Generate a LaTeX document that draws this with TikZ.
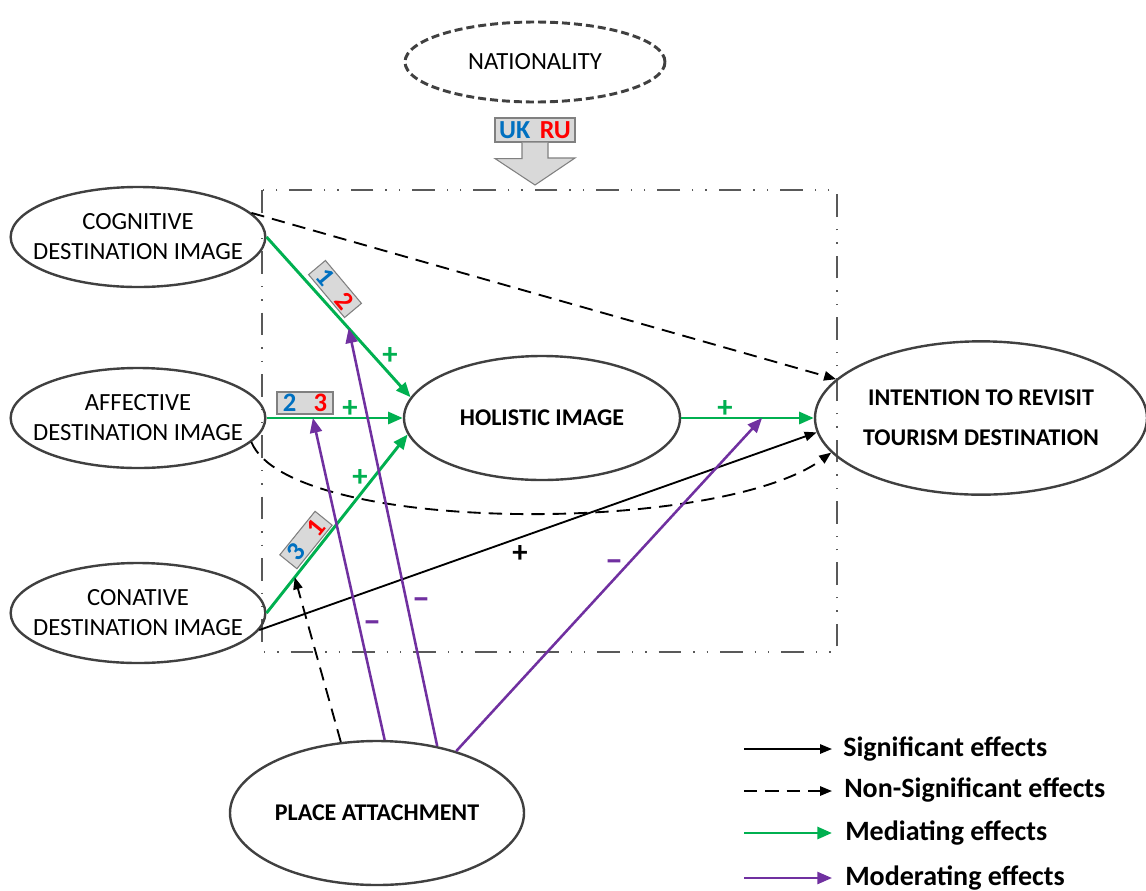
\documentclass[tikz,border=0pt]{standalone}
\usepackage{fontspec}
\setmainfont{Carlito}
\usetikzlibrary{arrows.meta,shapes.geometric,calc}
\definecolor{edge}{HTML}{404040}
\definecolor{mgreen}{HTML}{00B050}
\definecolor{mpurple}{HTML}{7030A0}
\definecolor{mblue}{HTML}{0070C0}
\definecolor{mred}{HTML}{FF0000}
\definecolor{badgefill}{HTML}{D9D9D9}
\definecolor{framegray}{HTML}{595959}
\begin{document}
\begin{tikzpicture}[x=0.75pt,y=-0.75pt,
  var/.style={ellipse, draw=edge, line width=1.8pt, inner sep=0pt},
  vtxt/.style={align=center, inner sep=0pt, font=\fontsize{18.5}{22.5}\selectfont},
  btxt/.style={align=center, inner sep=0pt, font=\bfseries\fontsize{18}{30}\selectfont},
  sig/.style={-{Triangle[length=9pt,width=7pt]}, line width=1.4pt, black},
  nsig/.style={sig, dash pattern=on 10pt off 6pt},
  med/.style={-{Triangle[length=11pt,width=9pt]}, line width=2.2pt, mgreen},
  modr/.style={-{Triangle[length=11pt,width=9pt]}, line width=1.9pt, mpurple},
  badge/.style={draw=gray, fill=badgefill, line width=0.8pt, minimum width=42pt, minimum height=16.5pt, inner sep=0pt, font=\bfseries\fontsize{20}{20}\selectfont},
  glab/.style={text=mgreen, inner sep=0pt, font=\bfseries\fontsize{23}{23}\selectfont},
  plab/.style={text=mpurple, inner sep=0pt, font=\bfseries\fontsize{27}{27}\selectfont},
  blab/.style={text=black, inner sep=0pt, font=\bfseries\fontsize{23}{23}\selectfont},
  leg/.style={anchor=base west, font=\bfseries\fontsize{21}{21}\selectfont, inner sep=0pt},
  frame/.style={draw=framegray, line width=1pt, dash pattern=on 17pt off 9pt on 1pt off 9pt on 1pt off 9pt}
]
\useasboundingbox (0,0) rectangle (1146,890);

% frame
\draw[frame] (262,190) rectangle (837,652);

% nodes
\node[var, minimum width=195pt, minimum height=60pt, dash pattern=on 6pt off 3pt, line width=2.2pt,
  label={[vtxt]center:NATIONALITY}] (nat) at (535,62) {};
\node[var, minimum width=191pt, minimum height=75pt,
  label={[vtxt]center:COGNITIVE\\DESTINATION IMAGE}] (cog) at (138,237) {};
\node[var, minimum width=191pt, minimum height=75pt,
  label={[vtxt]center:AFFECTIVE\\DESTINATION IMAGE}] (aff) at (138,418) {};
\node[var, minimum width=191pt, minimum height=75pt,
  label={[vtxt]center:CONATIVE\\DESTINATION IMAGE}] (con) at (138,613) {};
\node[var, minimum width=207pt, minimum height=93pt,
  label={[btxt]center:HOLISTIC IMAGE}] (hol) at (542,418) {};
\node[var, minimum width=249pt, minimum height=115pt,
  label={[btxt]center:INTENTION TO REVISIT\\TOURISM DESTINATION}] (int) at (981,418) {};
\node[var, minimum width=220.5pt, minimum height=108pt,
  label={[btxt]center:PLACE ATTACHMENT}] (pa) at (377,813) {};

% nationality marker
\node[draw=gray, fill=badgefill, line width=0.8pt, minimum width=60pt, minimum height=18pt, inner sep=0pt, font=\bfseries\fontsize{19.5}{19.5}\selectfont] (ukru) at (535,130) {\textcolor{mblue}{UK}\hspace{7pt}\textcolor{mred}{RU}};
\draw[draw=gray, fill=badgefill, line width=0.8pt] ($(ukru.south)+(-13,0)$) -- ++(0,16) -- ++(-27,0) -- (535,185) -- (575,158) -- ++(-27,0) -- ($(ukru.south)+(13,0)$);

% mediating paths
\draw[med] (cog.east) -- (hol.171) coordinate[pos=0.57] (m1);
\draw[med] (aff.east) -- (hol.west) coordinate[pos=0.34] (m2);
\draw[med] (con.east) -- (hol.187) coordinate[pos=0.2] (m3);
\draw[med] (hol.east) -- (int.west) coordinate[pos=0.61] (m4);

% direct effects
\draw[nsig] (cog.12) -- (int.165);
\draw[nsig] (aff.-12) .. controls (290,535) and (720,535) .. (int.193);
\draw[sig] (con.-8) -- (int.185);

% place attachment
\draw[nsig] (pa.117) -- (m3);
\draw[modr] (pa.84) -- (m2);
\draw[modr] (pa.48) -- (m1);
\draw[modr] (pa.38) -- (m4);

% badges
\node[badge, rotate=-50] (b12) at (335,289) {\textcolor{mblue}{1}\hspace{13pt}\textcolor{mred}{2}};
\node[badge] (b23) at (305,403) {\textcolor{mblue}{2}\hspace{13pt}\textcolor{mred}{3}};
\node[badge, rotate=51] (b31) at (306,540) {\textcolor{mblue}{3}\hspace{13pt}\textcolor{mred}{1}};

% signs
\node[glab] (s1) at (390,356) {+};
\node[glab] (s2) at (350,409) {+};
\node[glab] (s3) at (360,478) {+};
\node[glab] (s4) at (725,409) {+};
\node[blab] (s5) at (520,554) {+};
\node[plab] (n1) at (372,627) {–};
\node[plab] (n2) at (421,604) {–};
\node[plab] (n3) at (614,566) {–};

% legend
\coordinate (l1a) at (744,749); \coordinate (l1b) at (832,749);
\coordinate (l2a) at (744,791); \coordinate (l2b) at (832,791);
\coordinate (l3a) at (744,833); \coordinate (l3b) at (832,833);
\coordinate (l4a) at (744,878); \coordinate (l4b) at (832,878);
\draw[sig] (l1a) -- (l1b);
\draw[nsig] (l2a) -- (l2b);
\draw[med] (l3a) -- (l3b);
\draw[modr] (l4a) -- (l4b);
\node[leg] (t1) at (843,756) {Significant effects};
\node[leg] (t2) at (844,797) {Non-Significant effects};
\node[leg] (t3) at (845,840) {Mediating effects};
\node[leg] (t4) at (845,885) {Moderating effects};
\end{tikzpicture}
\end{document}
